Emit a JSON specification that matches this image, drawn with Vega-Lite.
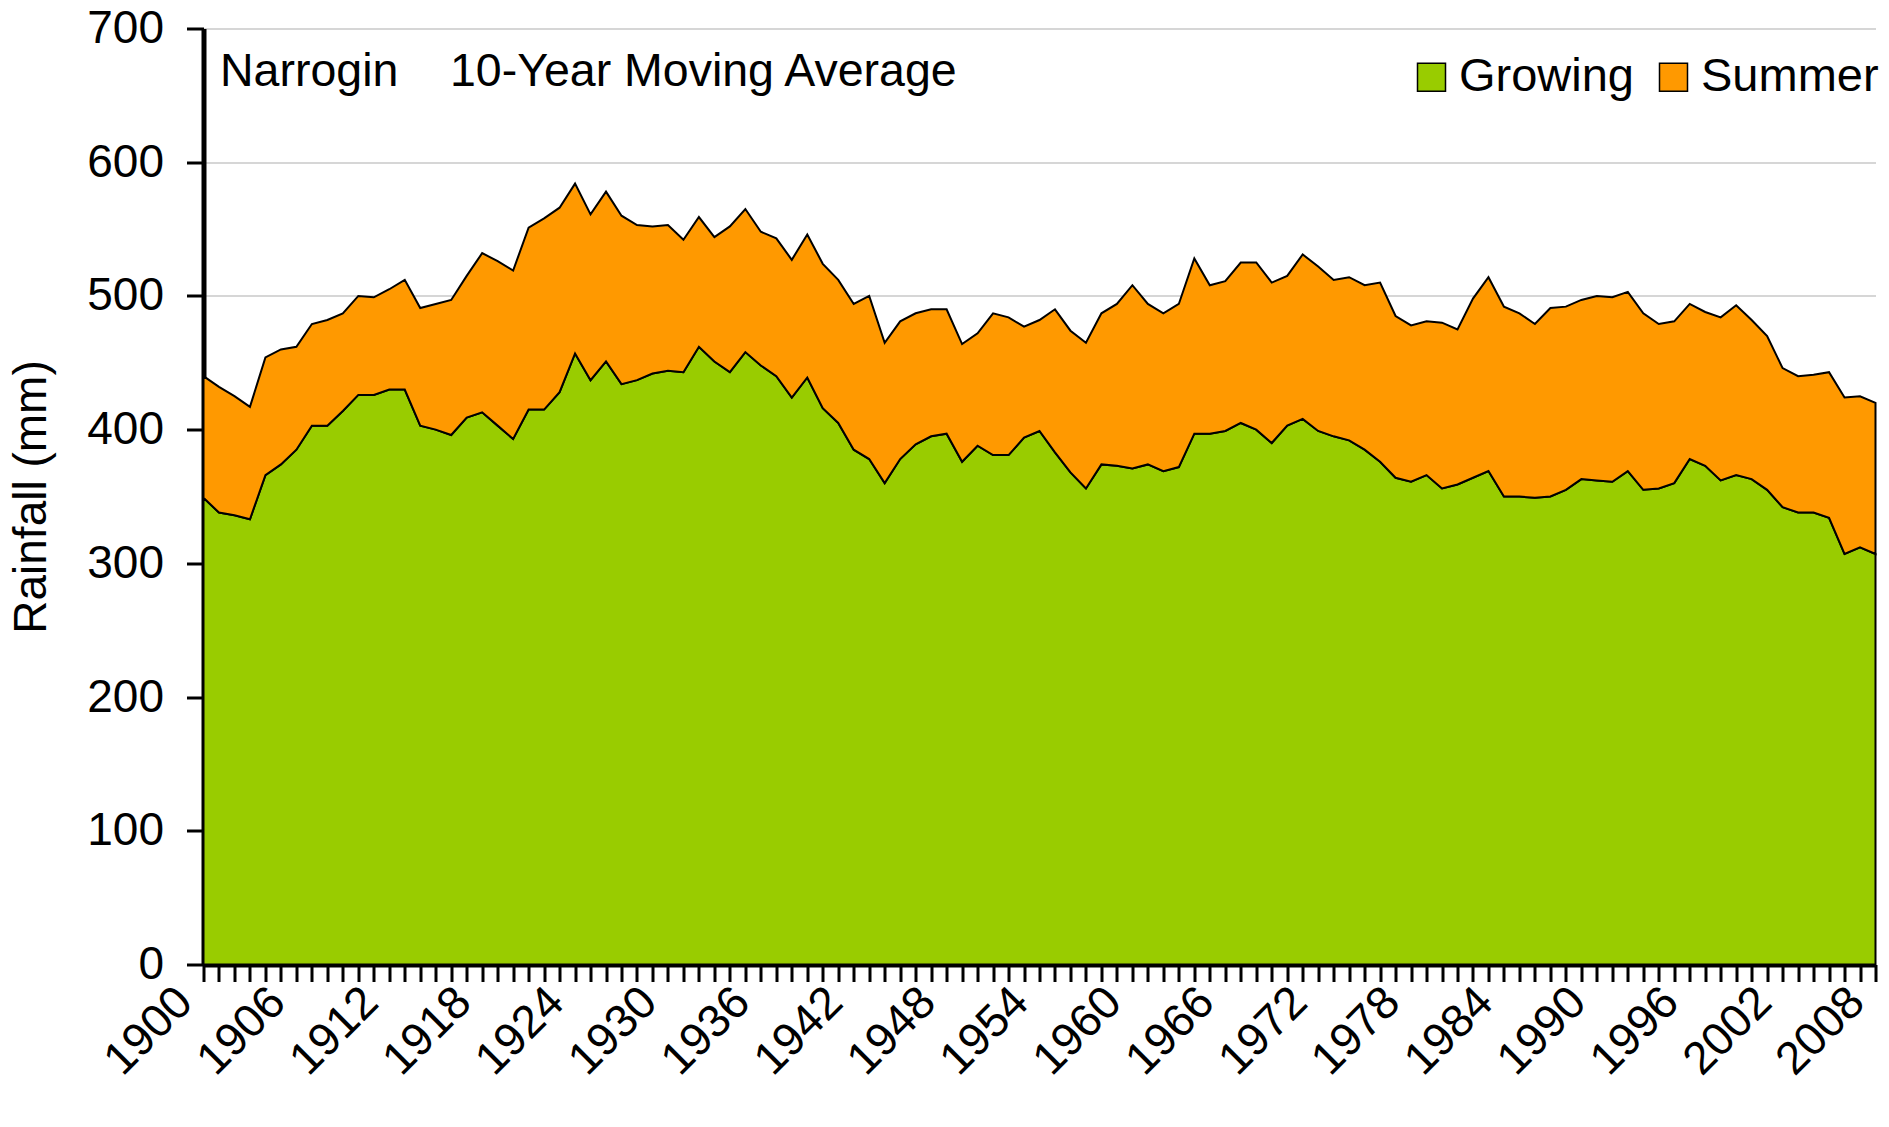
{
  "$schema": "https://vega.github.io/schema/vega-lite/v6.json",
  "width": 1672,
  "height": 936,
  "autosize": {"type": "none"},
  "padding": {"left": 203.5, "top": 28.5, "right": 13.5, "bottom": 162.5},
  "background": "white",
  "config": {"view": {"stroke": null}, "font": "Liberation Sans"},
  "title": {
    "text": "Narrogin\u00a0\u00a0\u00a0\u00a010-Year Moving Average",
    "anchor": "start",
    "frame": "group",
    "orient": "top",
    "fontSize": 46.5,
    "fontWeight": "normal",
    "color": "#000",
    "baseline": "alphabetic",
    "offset": -126.5,
    "dx": 16.5
  },
  "data": {
    "values": [
      {"year": 1900, "Growing": 349, "Summer": 91},
      {"year": 1901, "Growing": 338, "Summer": 94},
      {"year": 1902, "Growing": 336, "Summer": 89},
      {"year": 1903, "Growing": 333, "Summer": 84},
      {"year": 1904, "Growing": 366, "Summer": 88},
      {"year": 1905, "Growing": 374, "Summer": 86},
      {"year": 1906, "Growing": 385, "Summer": 77},
      {"year": 1907, "Growing": 403, "Summer": 76},
      {"year": 1908, "Growing": 403, "Summer": 79},
      {"year": 1909, "Growing": 414, "Summer": 73},
      {"year": 1910, "Growing": 426, "Summer": 74},
      {"year": 1911, "Growing": 426, "Summer": 73},
      {"year": 1912, "Growing": 430, "Summer": 75},
      {"year": 1913, "Growing": 430, "Summer": 82},
      {"year": 1914, "Growing": 403, "Summer": 88},
      {"year": 1915, "Growing": 400, "Summer": 94},
      {"year": 1916, "Growing": 396, "Summer": 101},
      {"year": 1917, "Growing": 409, "Summer": 106},
      {"year": 1918, "Growing": 413, "Summer": 119},
      {"year": 1919, "Growing": 403, "Summer": 123},
      {"year": 1920, "Growing": 393, "Summer": 126},
      {"year": 1921, "Growing": 415, "Summer": 136},
      {"year": 1922, "Growing": 415, "Summer": 143},
      {"year": 1923, "Growing": 428, "Summer": 138},
      {"year": 1924, "Growing": 457, "Summer": 127},
      {"year": 1925, "Growing": 437, "Summer": 124},
      {"year": 1926, "Growing": 451, "Summer": 127},
      {"year": 1927, "Growing": 434, "Summer": 126},
      {"year": 1928, "Growing": 437, "Summer": 116},
      {"year": 1929, "Growing": 442, "Summer": 110},
      {"year": 1930, "Growing": 444, "Summer": 109},
      {"year": 1931, "Growing": 443, "Summer": 99},
      {"year": 1932, "Growing": 462, "Summer": 97},
      {"year": 1933, "Growing": 451, "Summer": 93},
      {"year": 1934, "Growing": 443, "Summer": 109},
      {"year": 1935, "Growing": 458, "Summer": 107},
      {"year": 1936, "Growing": 448, "Summer": 100},
      {"year": 1937, "Growing": 440, "Summer": 103},
      {"year": 1938, "Growing": 424, "Summer": 103},
      {"year": 1939, "Growing": 439, "Summer": 107},
      {"year": 1940, "Growing": 416, "Summer": 108},
      {"year": 1941, "Growing": 405, "Summer": 107},
      {"year": 1942, "Growing": 385, "Summer": 109},
      {"year": 1943, "Growing": 378, "Summer": 122},
      {"year": 1944, "Growing": 360, "Summer": 105},
      {"year": 1945, "Growing": 378, "Summer": 103},
      {"year": 1946, "Growing": 389, "Summer": 98},
      {"year": 1947, "Growing": 395, "Summer": 95},
      {"year": 1948, "Growing": 397, "Summer": 93},
      {"year": 1949, "Growing": 376, "Summer": 88},
      {"year": 1950, "Growing": 388, "Summer": 84},
      {"year": 1951, "Growing": 381, "Summer": 106},
      {"year": 1952, "Growing": 381, "Summer": 103},
      {"year": 1953, "Growing": 394, "Summer": 83},
      {"year": 1954, "Growing": 399, "Summer": 83},
      {"year": 1955, "Growing": 383, "Summer": 107},
      {"year": 1956, "Growing": 368, "Summer": 106},
      {"year": 1957, "Growing": 356, "Summer": 109},
      {"year": 1958, "Growing": 374, "Summer": 113},
      {"year": 1959, "Growing": 373, "Summer": 121},
      {"year": 1960, "Growing": 371, "Summer": 137},
      {"year": 1961, "Growing": 374, "Summer": 120},
      {"year": 1962, "Growing": 369, "Summer": 118},
      {"year": 1963, "Growing": 372, "Summer": 122},
      {"year": 1964, "Growing": 397, "Summer": 131},
      {"year": 1965, "Growing": 397, "Summer": 111},
      {"year": 1966, "Growing": 399, "Summer": 112},
      {"year": 1967, "Growing": 405, "Summer": 120},
      {"year": 1968, "Growing": 400, "Summer": 125},
      {"year": 1969, "Growing": 390, "Summer": 120},
      {"year": 1970, "Growing": 403, "Summer": 112},
      {"year": 1971, "Growing": 408, "Summer": 123},
      {"year": 1972, "Growing": 399, "Summer": 123},
      {"year": 1973, "Growing": 395, "Summer": 117},
      {"year": 1974, "Growing": 392, "Summer": 122},
      {"year": 1975, "Growing": 385, "Summer": 123},
      {"year": 1976, "Growing": 376, "Summer": 134},
      {"year": 1977, "Growing": 364, "Summer": 121},
      {"year": 1978, "Growing": 361, "Summer": 117},
      {"year": 1979, "Growing": 366, "Summer": 115},
      {"year": 1980, "Growing": 356, "Summer": 124},
      {"year": 1981, "Growing": 359, "Summer": 116},
      {"year": 1982, "Growing": 364, "Summer": 134},
      {"year": 1983, "Growing": 369, "Summer": 145},
      {"year": 1984, "Growing": 350, "Summer": 142},
      {"year": 1985, "Growing": 350, "Summer": 137},
      {"year": 1986, "Growing": 349, "Summer": 130},
      {"year": 1987, "Growing": 350, "Summer": 141},
      {"year": 1988, "Growing": 355, "Summer": 137},
      {"year": 1989, "Growing": 363, "Summer": 134},
      {"year": 1990, "Growing": 362, "Summer": 138},
      {"year": 1991, "Growing": 361, "Summer": 138},
      {"year": 1992, "Growing": 369, "Summer": 134},
      {"year": 1993, "Growing": 355, "Summer": 132},
      {"year": 1994, "Growing": 356, "Summer": 123},
      {"year": 1995, "Growing": 360, "Summer": 121},
      {"year": 1996, "Growing": 378, "Summer": 116},
      {"year": 1997, "Growing": 373, "Summer": 115},
      {"year": 1998, "Growing": 362, "Summer": 122},
      {"year": 1999, "Growing": 366, "Summer": 127},
      {"year": 2000, "Growing": 363, "Summer": 119},
      {"year": 2001, "Growing": 355, "Summer": 115},
      {"year": 2002, "Growing": 342, "Summer": 104},
      {"year": 2003, "Growing": 338, "Summer": 102},
      {"year": 2004, "Growing": 338, "Summer": 103},
      {"year": 2005, "Growing": 334, "Summer": 109},
      {"year": 2006, "Growing": 307, "Summer": 117},
      {"year": 2007, "Growing": 312, "Summer": 113},
      {"year": 2008, "Growing": 307, "Summer": 113}
    ]
  },
  "transform": [{"fold": ["Growing", "Summer"], "as": ["season", "mm"]}],
  "mark": {"type": "area", "stroke": "#000", "strokeWidth": 2, "opacity": 1},
  "encoding": {
    "x": {
      "field": "year",
      "type": "quantitative",
      "scale": {"domain": [1900, 2008], "nice": false, "zero": false},
      "axis": {
        "title": null,
        "tickCount": 108,
        "format": "d",
        "labelExpr": "(datum.value - 1900) % 6 === 0 ? datum.label : ''",
        "labelAngle": -45,
        "labelAlign": "right",
        "labelBaseline": "middle",
        "labelFontSize": 46,
        "labelColor": "#000",
        "labelPadding": 13,
        "labelOffset": -19,
        "labelOverlap": false,
        "labelFlush": false,
        "labelBound": false,
        "tickSize": 17,
        "tickWidth": 3,
        "tickColor": "#000",
        "domainColor": "#000",
        "domainWidth": 5,
        "grid": false
      }
    },
    "y": {
      "field": "mm",
      "type": "quantitative",
      "stack": "zero",
      "scale": {"domain": [0, 700], "nice": false},
      "axis": {
        "title": "Rainfall (mm)",
        "titleFontSize": 46,
        "titleFontWeight": "normal",
        "titleColor": "#000",
        "titlePadding": 31,
        "values": [0, 100, 200, 300, 400, 500, 600, 700],
        "labelFontSize": 46,
        "labelColor": "#000",
        "labelPadding": 23,
        "labelFlush": false,
        "tickSize": 17,
        "tickWidth": 3,
        "tickColor": "#000",
        "domainColor": "#000",
        "domainWidth": 5,
        "grid": true,
        "gridColor": "#C8C8C8",
        "gridWidth": 1.5
      }
    },
    "color": {
      "field": "season",
      "type": "nominal",
      "scale": {"domain": ["Growing", "Summer"], "range": ["#99CC00", "#FF9900"]},
      "legend": {
        "title": null,
        "orient": "none",
        "legendX": 1204.5,
        "legendY": 25,
        "direction": "horizontal",
        "symbolType": "square",
        "symbolSize": 784,
        "symbolStrokeColor": "#000",
        "symbolStrokeWidth": 1.5,
        "symbolOpacity": 1,
        "labelFontSize": 47,
        "labelColor": "#000",
        "labelOffset": 4,
        "columnPadding": 15,
        "padding": 0,
        "labelLimit": 0
      }
    },
    "order": {"field": "season", "sort": "ascending"}
  }
}
